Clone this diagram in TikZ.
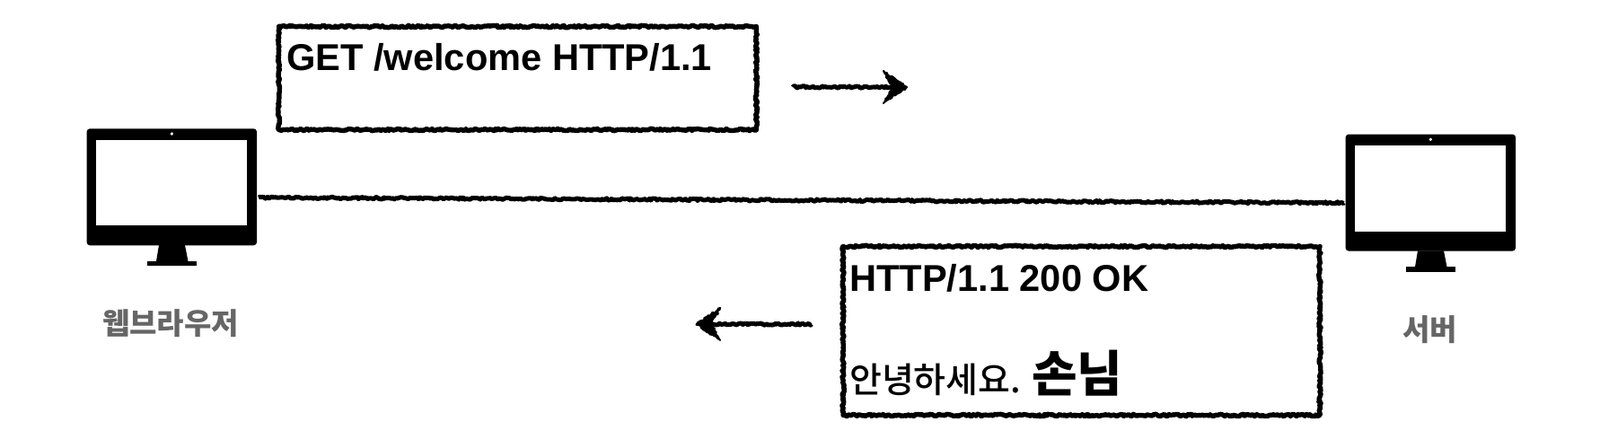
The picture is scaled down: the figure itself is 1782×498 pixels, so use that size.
\documentclass[tikz,border=0pt]{standalone}
\usepackage{fontspec}
\setmainfont{Liberation Sans}
\newfontfamily\krfont{Noto Sans CJK KR}
\newfontfamily\krmedium{Noto Sans CJK KR Medium}
\usetikzlibrary{decorations.pathmorphing,calc}
\definecolor{labelgray}{HTML}{666666}
\tikzset{
  x=1pt,y=-1pt,
  rough/.style={decorate,decoration={random steps,segment length=1.8pt,amplitude=1.2pt},line join=round},
  msgbox/.style={draw=black,rough,line width=5.4pt,inner sep=0pt,fill=none},
  roughline/.style={draw=black,rough,line width=5pt},
  monitorbody/.style={fill=black,rounded corners=3.5pt,inner sep=0pt,minimum width=189.5pt,minimum height=130pt},
  monitorscreen/.style={fill=white,inner sep=0pt,minimum width=168pt,minimum height=95.6pt},
  camera/.style={circle,fill=white,inner sep=0pt,minimum size=3.6pt},
  standbase/.style={fill=black,inner sep=0pt,minimum width=54.6pt,minimum height=5.8pt},
  devicelabel/.style={text=labelgray,inner sep=0pt,font=\krfont\bfseries\fontsize{33}{33}\selectfont},
  msgtext/.style={anchor=base west,inner sep=0pt,text=black},
  latinbold/.style={font=\bfseries\fontsize{41.6}{42}\selectfont},
}
\begin{document}
\begin{tikzpicture}
\useasboundingbox (0,0) rectangle (1782,498);
\fill[white] (0,0) rectangle (1782,498);
% client monitor
\node[monitorbody] (client) at (191.3,208.3) {};
\node[monitorscreen] (clientscreen) at (191.3,203.5) {};
\node[camera] (clientcam) at (191.3,149) {};
\fill (177,273) -- (206,273) -- (209.5,291) -- (174,291) -- cycle;
\node[standbase] (clientbase) at (191.3,293.4) {};
\node[devicelabel] (clientlabel) at (190,360) {웹브라우저};
% server monitor
\node[monitorbody] (server) at (1593.3,214.6) {};
\node[monitorscreen] (serverscreen) at (1593.3,209.8) {};
\node[camera] (servercam) at (1593.3,155.3) {};
\fill (1579,279.3) -- (1608,279.3) -- (1611.5,297.3) -- (1576,297.3) -- cycle;
\node[standbase] (serverbase) at (1593.3,299.7) {};
\node[devicelabel] (serverlabel) at (1592.5,367) {서버};
% connection
\coordinate (lineL) at (288,220);
\coordinate (lineR) at (1497,226);
\draw[roughline] (lineL) -- (lineR);
% request
\node[msgbox,minimum width=532pt,minimum height=115pt] (reqbox) at (576.5,87) {};
\node[msgtext,latinbold] (reqtext) at (319,78.5) {GET /welcome HTTP/1.1};
\coordinate (reqtail) at (883,97);
\coordinate (reqtip) at (1005,97);
\draw[roughline] (reqtail) -- (reqtip);
\fill[rough,draw=black,line width=2pt] (reqtip) ++(5,0) -- ++(-26,-18) -- ++(10,18) -- ++(-10,18) -- cycle;
% response
\node[msgbox,minimum width=531pt,minimum height=188pt] (resbox) at (1204.5,368.5) {};
\node[msgtext,latinbold] (restext) at (946,324) {HTTP/1.1 200 OK};
\node[msgtext,font=\krmedium\fontsize{39}{39}\selectfont] (greet) at (946,437) {안녕하세요.};
\node[msgtext,font=\krfont\bfseries\fontsize{55}{55}\selectfont] (guest) at (1149,436) {손님};
\coordinate (restail) at (904,361);
\coordinate (restip) at (781,361);
\draw[roughline] (restail) -- (restip);
\fill[rough,draw=black,line width=2pt] (restip) ++(-5,0) -- ++(26,-18) -- ++(-10,18) -- ++(10,18) -- cycle;
\end{tikzpicture}
\end{document}
